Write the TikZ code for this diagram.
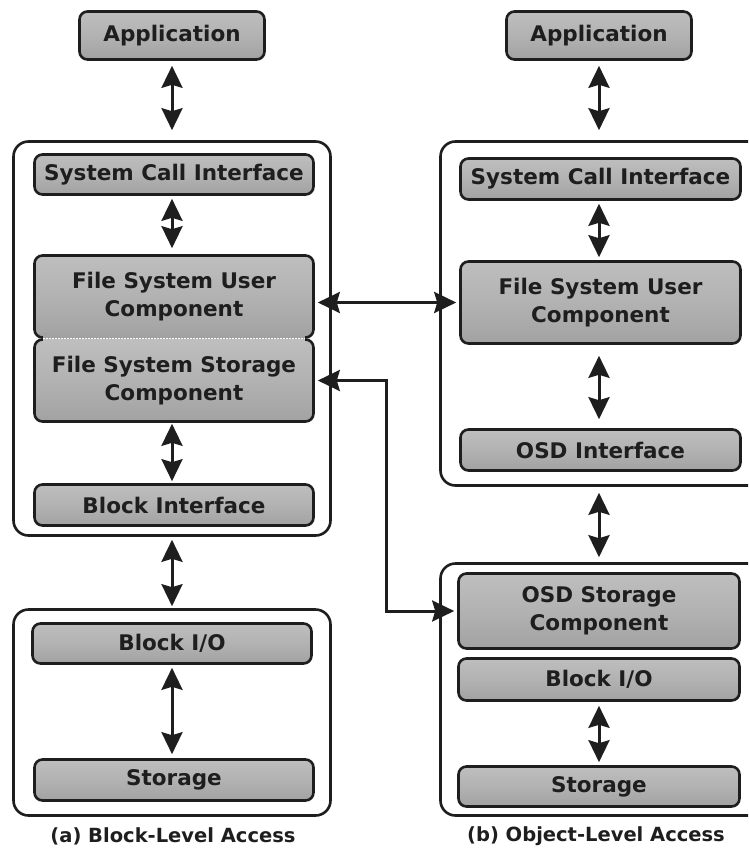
\documentclass[tikz,border=0pt]{standalone}
\usepackage{fontspec}
\setmainfont{DejaVu Sans}
\usetikzlibrary{arrows.meta}
\definecolor{ink}{HTML}{1E1E1E}
\definecolor{gtop}{HTML}{BEBEBE}
\definecolor{gmid}{HTML}{B2B2B2}
\definecolor{gbot}{HTML}{A2A2A2}
\tikzset{
  comp/.style={draw=ink, line width=2.6pt, rounded corners=8pt,
    top color=gtop, bottom color=gbot, middle color=gmid,
    text=ink, align=center, inner sep=0pt,
    font=\bfseries\fontsize{21.5}{28}\selectfont},
  outerbox/.style={draw=ink, line width=2.6pt, rounded corners=15pt, fill=white, inner sep=0pt},
  dbl/.style={{Stealth[length=22pt,width=21pt,inset=3pt]}-{Stealth[length=22pt,width=21pt,inset=3pt]},
    line width=3pt, draw=ink},
  caption/.style={text=ink, font=\bfseries\fontsize{19.5}{22}\selectfont, inner sep=0pt}
}
\begin{document}
\begin{tikzpicture}[x=1pt,y=-1pt]
\useasboundingbox (0,0) rectangle (748,849);
\clip (0,0) rectangle (748,849);

% ---------- left column: block-level access ----------
\node[outerbox, minimum width=317pt, minimum height=394pt] (oL1) at (172,338.5) {};
\node[outerbox, minimum width=317pt, minimum height=206pt] (oL2) at (172,712.5) {};

\node[comp, minimum width=185pt, minimum height=48pt] (lapp) at (172,35.5) {Application};
\node[comp, minimum width=279pt, minimum height=40pt] (lsci) at (174,174.5) {System Call Interface};
\node[comp, minimum width=279pt, minimum height=82pt] (lfsu) at (174,296.5) {File System User\\Component};
\node[comp, minimum width=279pt, minimum height=82pt] (lfss) at (174,380.5) {File System Storage\\Component};
\fill[gbot] (43,333) rectangle (305,338.5);
\fill[gtop] (43,338.5) rectangle (305,344);
\draw[white, line width=1pt, dash pattern=on 1.5pt off 1.5pt] (43,338.5) -- (305,338.5);
\node[comp, minimum width=279pt, minimum height=41pt] (lbi) at (174,505) {Block Interface};
\node[comp, minimum width=279pt, minimum height=40pt] (lbio) at (172,643.5) {Block I/O};
\node[comp, minimum width=279pt, minimum height=41pt] (lsto) at (174,780) {Storage};

\node[caption] (capA) at (173,836) {(a) Block-Level Access};

\coordinate (lx) at (172,0);
\draw[dbl, shorten <=5pt, shorten >=10pt] (lx |- lapp.south) -- (lx |- oL1.north);
\draw[dbl, shorten <=3pt, shorten >=6pt] (lx |- lsci.south) -- (lx |- lfsu.north);
\draw[dbl, shorten <=1pt, shorten >=2pt] (lx |- lfss.south) -- (lx |- lbi.north);
\draw[dbl, shorten <=3pt, shorten >=2pt] (lx |- oL1.south) -- (lx |- oL2.north);
\draw[dbl, shorten <=3pt, shorten >=4pt] (lx |- lbio.south) -- (lx |- lsto.north);

% ---------- right column: object-level access ----------
\node[outerbox, minimum width=328pt, minimum height=344pt] (oR1) at (604.5,313.5) {};
\node[outerbox, minimum width=328pt, minimum height=252pt] (oR2) at (604.5,689.5) {};

\node[comp, minimum width=185pt, minimum height=48pt] (rapp) at (599,35.5) {Application};
\node[comp, minimum width=280pt, minimum height=41pt] (rsci) at (600.5,179) {System Call Interface};
\node[comp, minimum width=280pt, minimum height=82pt] (rfsu) at (600.5,302.5) {File System User\\Component};
\node[comp, minimum width=280pt, minimum height=41pt] (rosdi) at (600.5,450) {OSD Interface};
\node[comp, minimum width=281pt, minimum height=75pt] (rosds) at (599,611) {OSD Storage\\Component};
\node[comp, minimum width=281pt, minimum height=42pt] (rbio) at (599,679.5) {Block I/O};
\node[comp, minimum width=281pt, minimum height=40pt] (rsto) at (599,786.5) {Storage};

\node[caption] (capB) at (596,836) {(b) Object-Level Access};

\coordinate (rx) at (599,0);
\draw[dbl, shorten <=5pt, shorten >=10pt] (rx |- rapp.south) -- (rx |- oR1.north);
\draw[dbl, shorten <=3pt, shorten >=3pt] (rx |- rsci.south) -- (rx |- rfsu.north);
\draw[dbl, shorten <=11pt, shorten >=9pt] (rx |- rfsu.south) -- (rx |- rosdi.north);
\draw[dbl, shorten <=6pt, shorten >=5pt] (rx |- oR1.south) -- (rx |- oR2.north);
\draw[dbl, shorten <=4pt, shorten >=3pt] (rx |- rbio.south) -- (rx |- rsto.north);

% ---------- cross connectors ----------
\draw[dbl, shorten <=3pt, shorten >=3pt] (rfsu.west -| lfsu.east) -- (rfsu.west);
\draw[dbl, shorten <=3pt, shorten >=3pt, rounded corners=0pt] (lfss.east) -- ++(72,0) |- (rosds.west);
\end{tikzpicture}
\end{document}
